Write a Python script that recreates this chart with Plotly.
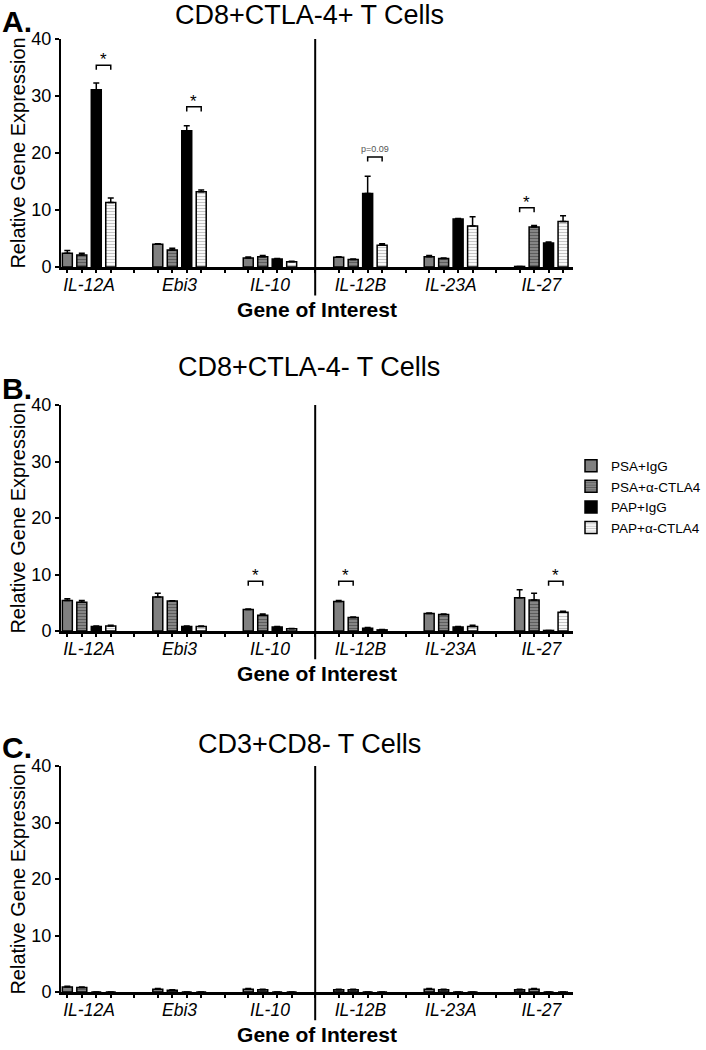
import plotly.graph_objects as go

# ---------------- data ----------------
genes = ["IL-12A", "Ebi3", "IL-10", "IL-12B", "IL-23A", "IL-27"]
groups = ["PSA+IgG", "PSA+α-CTLA4", "PAP+IgG", "PAP+α-CTLA4"]
panel_titles = ["CD8+CTLA-4+ T Cells", "CD8+CTLA-4- T Cells", "CD3+CD8- T Cells"]
panel_letters = ["A.", "B.", "C."]

# Panel A: CD8+CTLA-4+
a_psa_igg = [2.4, 4.0, 1.6, 1.7, 1.8, 0.1]
a_psa_ctla4 = [2.1, 3.0, 1.8, 1.3, 1.5, 7.0]
a_pap_igg = [31.1, 23.9, 1.4, 12.9, 8.4, 4.2]
a_pap_ctla4 = [11.3, 13.2, 0.9, 3.8, 7.2, 8.0]
a_psa_igg_err = [0.5, 0.1, 0.15, 0.1, 0.2, 0.0]
a_psa_ctla4_err = [0.3, 0.3, 0.2, 0.1, 0.1, 0.3]
a_pap_igg_err = [1.2, 0.9, 0.1, 3.0, 0.1, 0.2]
a_pap_ctla4_err = [0.8, 0.3, 0.1, 0.3, 1.6, 1.0]

# Panel B: CD8+CTLA-4-
b_psa_igg = [5.4, 6.0, 3.8, 5.2, 3.1, 5.9]
b_psa_ctla4 = [5.1, 5.3, 2.8, 2.4, 2.9, 5.5]
b_pap_igg = [0.8, 0.8, 0.7, 0.5, 0.7, 0.1]
b_pap_ctla4 = [0.9, 0.8, 0.4, 0.2, 0.8, 3.3]
b_psa_igg_err = [0.3, 0.7, 0.1, 0.2, 0.1, 1.4]
b_psa_ctla4_err = [0.3, 0.05, 0.2, 0.1, 0.1, 1.2]
b_pap_igg_err = [0.1, 0.1, 0.1, 0.1, 0.1, 0.0]
b_pap_ctla4_err = [0.1, 0.1, 0.05, 0.05, 0.2, 0.2]

# Panel C: CD3+CD8-
c_psa_igg = [0.9, 0.5, 0.5, 0.4, 0.5, 0.4]
c_psa_ctla4 = [0.8, 0.3, 0.4, 0.4, 0.4, 0.5]
c_pap_igg = [0, 0, 0, 0, 0, 0]
c_pap_ctla4 = [0, 0, 0, 0, 0, 0]
c_psa_igg_err = [0.1, 0.1, 0.1, 0.1, 0.1, 0.1]
c_psa_ctla4_err = [0.1, 0.1, 0.1, 0.1, 0.1, 0.1]
c_pap_igg_err = [0, 0, 0, 0, 0, 0]
c_pap_ctla4_err = [0, 0, 0, 0, 0, 0]

# significance brackets: (panel, gene index, bar a, bar b, y level, label)
brackets = [
    (0, 0, 2, 3, 35.4, "*"),
    (0, 1, 2, 3, 28.1, "*"),
    (0, 3, 2, 3, 19.3, "p=0.09"),
    (0, 5, 0, 1, 10.4, "*"),
    (1, 2, 0, 1, 8.8, "*"),
    (1, 3, 0, 1, 8.8, "*"),
    (1, 5, 2, 3, 8.8, "*"),
]

y_ticks = [0, 10, 20, 30, 40]

panels = [
    ([a_psa_igg, a_psa_ctla4, a_pap_igg, a_pap_ctla4],
     [a_psa_igg_err, a_psa_ctla4_err, a_pap_igg_err, a_pap_ctla4_err]),
    ([b_psa_igg, b_psa_ctla4, b_pap_igg, b_pap_ctla4],
     [b_psa_igg_err, b_psa_ctla4_err, b_pap_igg_err, b_pap_ctla4_err]),
    ([c_psa_igg, c_psa_ctla4, c_pap_igg, c_pap_ctla4],
     [c_psa_igg_err, c_psa_ctla4_err, c_pap_igg_err, c_pap_ctla4_err]),
]

# ---------------- styling ----------------
W, H = 706, 1050
FONT = "Arial, 'Liberation Sans', sans-serif"
BARGAP = 0.36
NB = len(groups)
slot = (1 - BARGAP) / NB
offsets = [(k - (NB - 1) / 2) * slot for k in range(NB)]
XRANGE = [-0.31, 5.35]


def px_x(v):
    return v / W


def px_y(v):
    return 1 - v / H


styles = [
    dict(color="#808080", pattern=dict(shape="")),
    dict(color="#8a8a8a", pattern=dict(shape="-", fgcolor="#303030", bgcolor="#8a8a8a", size=3, solidity=0.4)),
    dict(color="#000000", pattern=dict(shape="")),
    dict(color="#ffffff", pattern=dict(shape="-", fgcolor="#8c8c8c", bgcolor="#ffffff", size=3, solidity=0.4)),
]

# pixel layout of the three panels: (y of 40, y of 0, title y, letter y)
panel_px = [(39, 267, 15, 21), (405, 631, 367, 388), (766, 992, 744, 747)]
x_left, x_right = 61, 573

fig = go.Figure()
layout = dict(
    width=W, height=H,
    margin=dict(l=0, r=0, t=0, b=0, autoexpand=False),
    paper_bgcolor="white", plot_bgcolor="white",
    barmode="group", bargap=BARGAP, bargroupgap=0.31,
    font=dict(family=FONT, color="black"),
    showlegend=True,
    legend=dict(x=px_x(571), y=px_y(497), xanchor="left", yanchor="middle",
                font=dict(size=13.5, family=FONT), itemwidth=30,
                bgcolor="rgba(0,0,0,0)", tracegroupgap=0),
)
shapes = []
annotations = []

for p, (vals, errs) in enumerate(panels):
    xa = "x" if p == 0 else f"x{p + 1}"
    ya = "y" if p == 0 else f"y{p + 1}"
    xo = f"x{p + 4}"
    xkey = "xaxis" if p == 0 else f"xaxis{p + 1}"
    ykey = "yaxis" if p == 0 else f"yaxis{p + 1}"
    okey = f"xaxis{p + 4}"
    y40, y0, ty, ly = panel_px[p]

    for k in range(NB):
        fig.add_trace(go.Bar(
            x=genes, y=vals[k], name=groups[k], legendgroup=groups[k],
            showlegend=(p == 0), xaxis=xa, yaxis=ya,
            marker=dict(color=styles[k]["color"], pattern=styles[k]["pattern"],
                        line=dict(color="black", width=1.5)),
            error_y=dict(type="data", array=errs[k], arrayminus=[0] * len(genes),
                         symmetric=False, color="black", thickness=1.5, width=3),
        ))

    tickpos = []
    for gi in range(len(genes)):
        tickpos += [gi + o for o in offsets]
        if gi < len(genes) - 1:
            tickpos.append(gi + 0.5)

    layout[xkey] = dict(
        type="category", domain=[px_x(x_left), px_x(x_right)], anchor=ya, range=XRANGE,
        showline=True, linecolor="black", linewidth=2.5, ticks="",
        tickfont=dict(size=17.5, style="italic", family=FONT),
        showgrid=False, zeroline=False, fixedrange=True,
        title=dict(text="<b>Gene of Interest</b>", font=dict(size=21, family=FONT), standoff=9),
    )
    layout[okey] = dict(
        type="linear", overlaying=xa, anchor=ya, range=XRANGE, side="bottom",
        tickvals=tickpos, ticks="outside", ticklen=5, tickwidth=2, tickcolor="black",
        showticklabels=False, showline=False, showgrid=False, zeroline=False,
    )
    layout[ykey] = dict(
        domain=[px_y(y0), px_y(y40)], anchor=xa, range=[0, 40],
        tickvals=y_ticks, ticks="outside", ticklen=4, tickwidth=2, tickcolor="black",
        showline=True, linecolor="black", linewidth=2, showgrid=False, zeroline=False,
        tickfont=dict(size=18, family=FONT), fixedrange=True,
        title=dict(text="Relative Gene Expression", font=dict(size=20, family=FONT), standoff=0),
    )

    # divider between the two gene sets
    shapes.append(dict(type="line", xref=xo, yref=f"{ya} domain", x0=2.5, x1=2.5,
                       y0=-0.125, y1=1, line=dict(color="black", width=2)))

    annotations.append(dict(text=panel_titles[p], xref="paper", yref="paper",
                            x=px_x(309), y=px_y(ty), xanchor="center", yanchor="middle",
                            showarrow=False, font=dict(size=27, family=FONT)))
    annotations.append(dict(text="<b>" + panel_letters[p] + "</b>", xref="paper", yref="paper",
                            x=0, y=px_y(ly), xanchor="left", yanchor="middle",
                            showarrow=False, font=dict(size=30, family=FONT)))

for (p, gi, ba, bb, yl, lab) in brackets:
    xo = f"x{p + 4}"
    ya = "y" if p == 0 else f"y{p + 1}"
    xa0 = gi + offsets[ba]
    xb0 = gi + offsets[bb]
    leg = 0.8
    shapes.append(dict(type="path", xref=xo, yref=ya,
                       path=f"M {xa0},{yl - leg} L {xa0},{yl} L {xb0},{yl} L {xb0},{yl - leg}",
                       line=dict(color="black", width=1.5)))
    if lab == "*":
        annotations.append(dict(text="*", xref=xo, yref=ya, x=(xa0 + xb0) / 2, y=yl,
                                xanchor="center", yanchor="bottom", yshift=-6,
                                showarrow=False, font=dict(size=17, family=FONT)))
    else:
        annotations.append(dict(text=lab, xref=xo, yref=ya, x=(xa0 + xb0) / 2, y=yl,
                                xanchor="center", yanchor="bottom", yshift=1,
                                showarrow=False, font=dict(size=9, family=FONT, color="#555555")))

layout["shapes"] = shapes
layout["annotations"] = annotations
fig.update_layout(**layout)
fig.write_html("out.html", config={"displayModeBar": False},
               post_script="document.body.style.margin='0';")
